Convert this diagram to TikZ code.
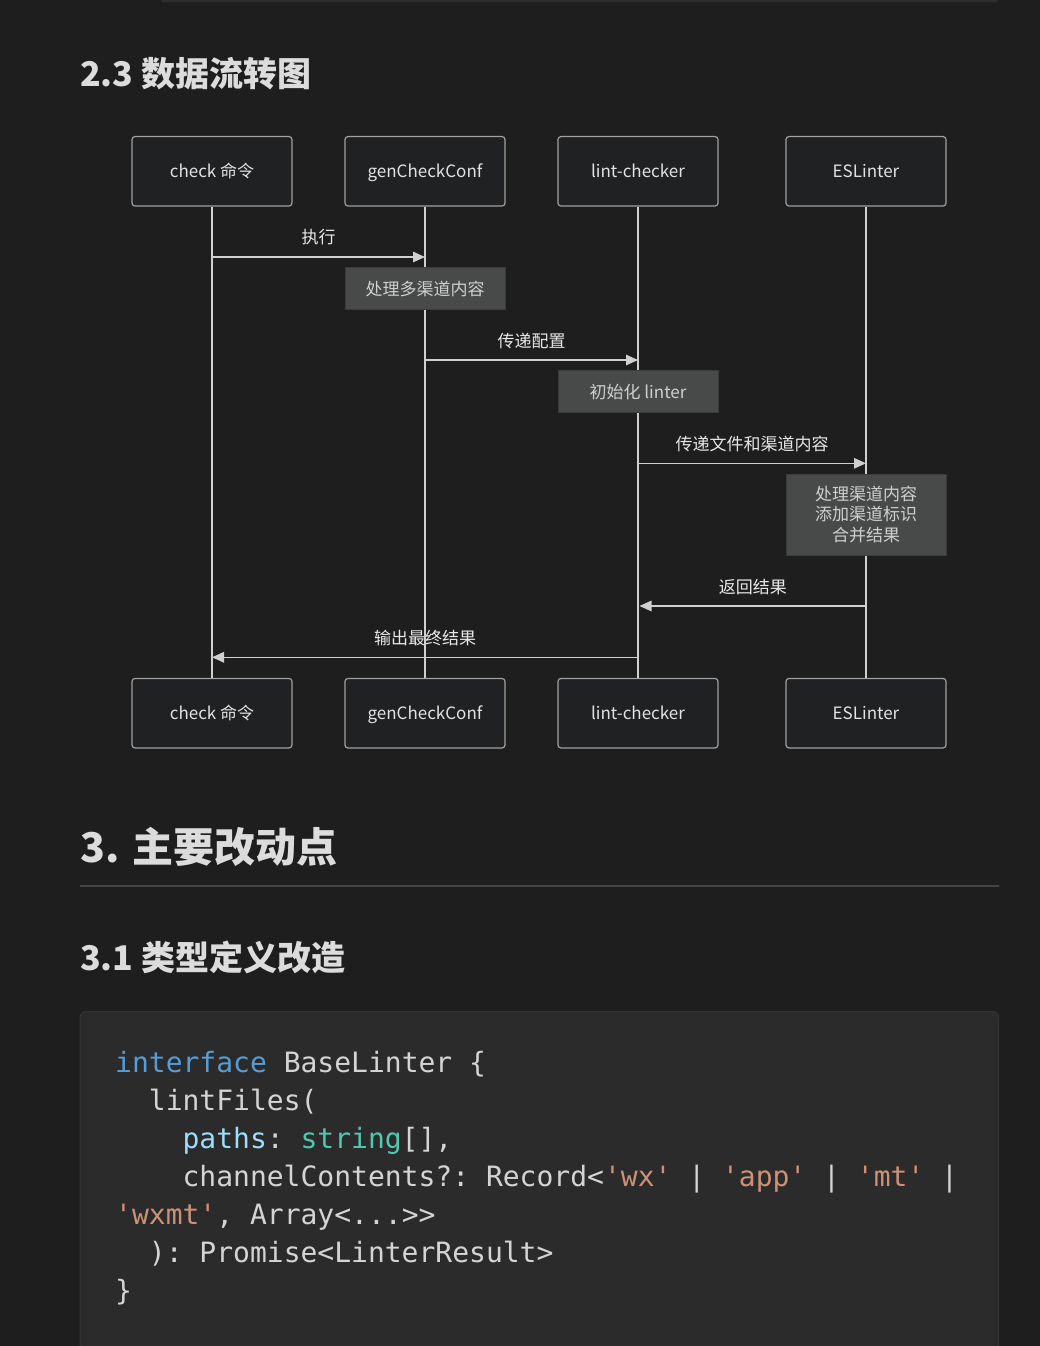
\documentclass[tikz,border=0pt]{standalone}
\usepackage{fontspec}
\setmainfont{Noto Sans CJK SC}
\setmonofont{DejaVu Sans Mono}
\usetikzlibrary{arrows.meta}
\definecolor{bg}{HTML}{1E1E1E}
\definecolor{boxfill}{HTML}{202122}
\definecolor{boxborder}{HTML}{A0A0A0}
\definecolor{boxtext}{HTML}{E2E2E2}
\definecolor{lifecol}{HTML}{D0D0D0}
\definecolor{labeltext}{HTML}{E8E8E8}
\definecolor{notefill}{HTML}{484A49}
\definecolor{noteborder}{HTML}{3A3C3B}
\definecolor{notetext}{HTML}{CFCFCF}
\definecolor{headcol}{HTML}{DCDCDC}
\definecolor{rulecol}{HTML}{454545}
\definecolor{codebg}{HTML}{2B2B2B}
\definecolor{codeborder}{HTML}{343434}
\definecolor{barfill}{HTML}{2D2D2D}
\definecolor{cdef}{HTML}{D4D4D4}
\definecolor{ckw}{HTML}{569CD6}
\definecolor{cvar}{HTML}{9CDCFE}
\definecolor{ctype}{HTML}{4EC9B0}
\definecolor{cstr}{HTML}{CE9178}
\tikzset{
  diagfont/.style={font=\fontsize{17}{20.3}\selectfont},
  actorbox/.style={diagfont, draw=boxborder, fill=boxfill, line width=1.2pt, rounded corners=3pt,
    minimum width=160pt, minimum height=69.5pt, text=boxtext, inner sep=0pt,
    text height=14pt, text depth=1pt},
  notebox/.style={diagfont, draw=noteborder, fill=notefill, line width=1pt,
    minimum width=160pt, text=notetext, inner sep=0pt, align=center},
  lifeline/.style={draw=lifecol, line width=1.8pt},
  msg/.style={draw=lifecol, line width=1.5pt, -{Triangle[length=12pt,width=10.5pt]}},
  msglabel/.style={diagfont, text=labeltext, inner sep=0pt, text height=14pt, text depth=1pt},
  heading/.style={text=headcol, inner sep=0pt, anchor=base west},
  codeline/.style={font=\ttfamily\fontsize{28}{38}\selectfont, text=cdef, inner sep=0pt, anchor=base west},
}
\begin{document}
\begin{tikzpicture}[x=1pt,y=-1pt]
\useasboundingbox (0,0) rectangle (1040,1346);
\fill[bg] (0,0) rectangle (1040,1346);
% end of previous block
\draw[fill=barfill, draw=codeborder, rounded corners=3pt] (161,-10) rectangle (998,2);
% heading
\node[heading, font=\bfseries\fontsize{34}{40}\selectfont] (h23) at (80,86) {2.3 数据流转图};
% actors
\node[actorbox] (t1) at (212,171.3) {check 命令};
\node[actorbox] (t2) at (425,171.3) {genCheckConf};
\node[actorbox] (t3) at (638,171.3) {lint-checker};
\node[actorbox] (t4) at (866,171.3) {ESLinter};
\node[actorbox] (b1) at (212,713.2) {check 命令};
\node[actorbox] (b2) at (425,713.2) {genCheckConf};
\node[actorbox] (b3) at (638,713.2) {lint-checker};
\node[actorbox] (b4) at (866,713.2) {ESLinter};
% lifelines
\draw[lifeline] (t1.south) -- (b1.north);
\draw[lifeline] (t2.south) -- (b2.north);
\draw[lifeline] (t3.south) -- (b3.north);
\draw[lifeline] (t4.south) -- (b4.north);
% message levels
\coordinate (m1) at (0,257);
\coordinate (m2) at (0,360);
\coordinate (m3) at (0,463.3);
\coordinate (m4) at (0,606);
\coordinate (m5) at (0,657.3);
\draw[msg] (t1 |- m1) -- (t2 |- m1) node[msglabel, midway, yshift=20pt] (l1) {执行};
\draw[msg] (t2 |- m2) -- (t3 |- m2) node[msglabel, midway, yshift=19pt] (l2) {传递配置};
\draw[msg] (t3 |- m3) -- (t4 |- m3) node[msglabel, midway, yshift=19pt] (l3) {传递文件和渠道内容};
\draw[msg] (t4 |- m4) -- ([xshift=1.5pt]t3 |- m4) node[msglabel, midway, yshift=19pt] (l4) {返回结果};
\draw[msg] (t3 |- m5) -- (t1 |- m5) node[msglabel, midway, yshift=19pt] (l5) {输出最终结果};
% notes
\node[notebox, minimum height=41.5pt] (n1) at (425,288.5) {处理多渠道内容};
\node[notebox, minimum height=42pt] (n2) at (638,391.7) {初始化 linter};
\node[notebox, minimum height=81pt] (n3) at (866,514.5) {处理渠道内容\\添加渠道标识\\合并结果};
% section 3
\node[heading, font=\bfseries\fontsize{41}{48}\selectfont] (h3) at (80,862) {3. 主要改动点};
\draw[rulecol, line width=2pt] (80,886) coordinate (r1) -- (999,886) coordinate (r2);
\node[heading, font=\bfseries\fontsize{34}{40}\selectfont] (h31) at (80,970) {3.1 类型定义改造};
% code block
\draw[fill=codebg, draw=codeborder, line width=1pt, rounded corners=6pt] (80,1011.5) rectangle (998.5,1370);
\node[codeline] (c1) at (115,1072) {\textcolor{ckw}{interface} BaseLinter \{};
\node[codeline] (c2) at (148.7,1110) {lintFiles(};
\node[codeline] (c3) at (182.4,1148) {\textcolor{cvar}{paths}: \textcolor{ctype}{string}[],};
\node[codeline] (c4) at (182.4,1186) {channelContents?: Record<\textcolor{cstr}{'wx'} | \textcolor{cstr}{'app'} | \textcolor{cstr}{'mt'} |};
\node[codeline] (c5) at (115,1224) {\textcolor{cstr}{'wxmt'}, Array<...>>};
\node[codeline] (c6) at (148.7,1262) {): Promise<LinterResult>};
\node[codeline] (c7) at (115,1300) {\}};
\end{tikzpicture}
\end{document}
